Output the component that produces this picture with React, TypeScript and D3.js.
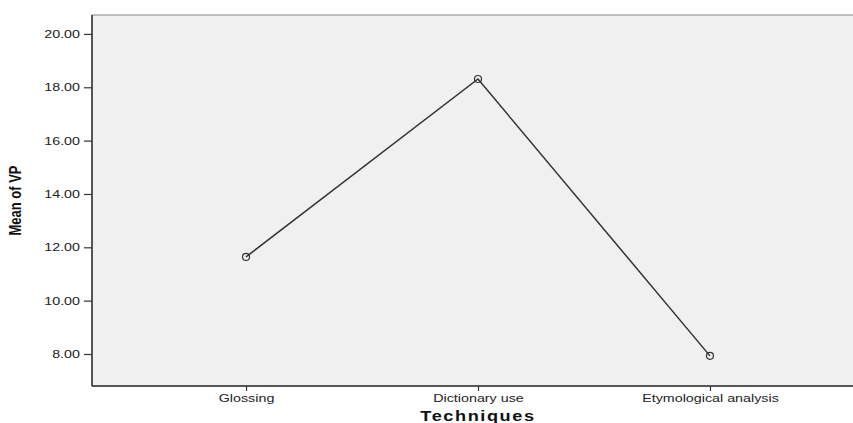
import { useEffect, useRef } from "react";
import * as d3 from "d3";

const categories = ["Glossing", "Dictionary use", "Etymological analysis"];
const means = [11.64, 18.31, 7.93];
const yTicks = [8, 10, 12, 14, 16, 18, 20];

export default function App() {
  const svgRef = useRef<SVGSVGElement>(null);

  useEffect(() => {
    const width = 853;
    const height = 423;
    const left = 92;
    const right = 864; // plot box runs off the right edge of the picture
    const top = 15;
    const bottom = 386;
    const sx = 1.3; // the original chart is stretched sideways, glyphs too

    const svg = d3.select(svgRef.current).attr("width", width).attr("height", height);
    svg.selectAll("*").remove();

    const x = d3.scalePoint<string>().domain(categories).range([left, right]).padding(0.664);
    const y = d3.scaleLinear().domain([6.8, 20.71]).range([bottom, top]);

    svg
      .append("rect")
      .attr("x", left)
      .attr("y", top)
      .attr("width", right - left)
      .attr("height", bottom - top)
      .attr("fill", "#f0f0f0")
      .attr("stroke", "#8a8a8a")
      .attr("stroke-width", 1);

    const yAxis = svg
      .append("g")
      .attr("transform", `translate(${left},0)`)
      .call(
        d3
          .axisLeft(y)
          .tickValues(yTicks)
          .tickSize(8)
          .tickPadding(4)
          .tickFormat((d) => d3.format(".2f")(d as number))
      );
    yAxis.select(".domain").attr("stroke", "#333").attr("stroke-width", 1.5).attr("d", `M0,${top}V${bottom}`);
    yAxis.selectAll(".tick line").attr("stroke", "#333").attr("stroke-width", 1.2);
    yAxis
      .selectAll(".tick text")
      .attr("x", -12 / sx)
      .attr("transform", `scale(${sx},1)`)
      .attr("font-family", "Arial, 'Liberation Sans', sans-serif")
      .attr("font-size", "11px")
      .attr("fill", "#222");

    const xAxis = svg
      .append("g")
      .attr("transform", `translate(0,${bottom})`)
      .call(d3.axisBottom(x).tickSize(5).tickPadding(3));
    xAxis.select(".domain").attr("stroke", "#333").attr("stroke-width", 1.5).attr("d", `M${left},0H${right}`);
    xAxis.selectAll(".tick line").attr("stroke", "#333").attr("stroke-width", 1.2);
    xAxis
      .selectAll(".tick text")
      .attr("transform", `scale(${sx},1)`)
      .attr("font-family", "Arial, 'Liberation Sans', sans-serif")
      .attr("font-size", "11px")
      .attr("fill", "#222");

    const line = d3
      .line<number>()
      .x((_, i) => x(categories[i]) as number)
      .y((d) => y(d));

    svg
      .append("path")
      .datum(means)
      .attr("d", line)
      .attr("fill", "none")
      .attr("stroke", "#333")
      .attr("stroke-width", 1.5);

    svg
      .selectAll("circle.pt")
      .data(means)
      .enter()
      .append("circle")
      .attr("class", "pt")
      .attr("cx", (_, i) => x(categories[i]) as number)
      .attr("cy", (d) => y(d))
      .attr("r", 3.5)
      .attr("fill", "none")
      .attr("stroke", "#333")
      .attr("stroke-width", 1.2);

    svg
      .append("text")
      .attr("transform", `translate(${x(categories[1])},421) scale(${sx},1)`)
      .attr("text-anchor", "middle")
      .attr("font-family", "Arial, 'Liberation Sans', sans-serif")
      .attr("font-size", "14px")
      .attr("font-weight", "bold")
      .attr("letter-spacing", "1.2px")
      .attr("fill", "#111")
      .text("Techniques");

    svg
      .append("text")
      .attr("transform", `translate(21,${(top + bottom) / 2}) scale(${sx},1) rotate(-90)`)
      .attr("text-anchor", "middle")
      .attr("font-family", "'Liberation Sans Narrow', 'Arial Narrow', sans-serif")
      .attr("font-stretch", "condensed")
      .attr("font-size", "13px")
      .attr("font-weight", "bold")
      .attr("fill", "#111")
      .text("Mean of VP");
  }, []);

  return (
    <svg
      ref={svgRef}
      style={{ position: "absolute", left: 0, top: 0, display: "block", background: "#fff" }}
    />
  );
}
